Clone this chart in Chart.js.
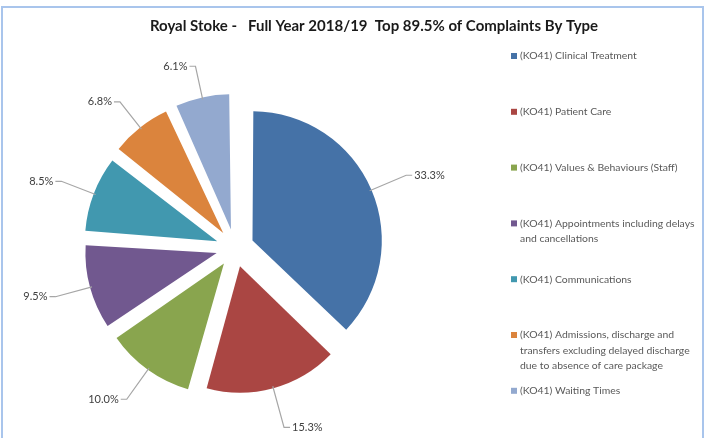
<!DOCTYPE html>
<html>
<head>
<meta charset="utf-8">
<script src="https://cdn.jsdelivr.net/npm/chart.js@4.4.1/dist/chart.umd.min.js"></script>
<style>
  html, body { margin: 0; padding: 0; background: #ffffff; }
  #wrap { width: 711px; height: 438px; position: relative; }
</style>
</head>
<body>
<div id="wrap"><canvas id="c" width="711" height="438"></canvas></div>
<script>
// ---- data ----
const chartTitle = 'Royal Stoke -   Full Year 2018/19  Top 89.5% of Complaints By Type';
const categories = [
  ['(KO41) Clinical Treatment'],
  ['(KO41) Patient Care'],
  ['(KO41) Values & Behaviours (Staff)'],
  ['(KO41) Appointments including delays', 'and cancellations'],
  ['(KO41) Communications'],
  ['(KO41) Admissions, discharge and', 'transfers excluding delayed discharge', 'due to absence of care package'],
  ['(KO41) Waiting Times']
];
const values = [33.3, 15.3, 10.0, 9.5, 8.5, 6.8, 6.1];
const colors = ['#4572A7', '#AA4643', '#89A54E', '#71588F', '#4198AF', '#DB843D', '#93A9CF'];

const FONT = "Lato, 'Liberation Sans', sans-serif";
const OFFSET = 76; // chart.js translates arcs by offset/4

const frame = {
  id: 'frame',
  beforeDraw(chart) {
    const ctx = chart.ctx;
    ctx.save();
    ctx.fillStyle = '#ffffff';
    ctx.fillRect(0, 0, chart.width, chart.height);
    ctx.strokeStyle = '#a9c5ec';
    ctx.lineWidth = 2;
    ctx.strokeRect(2, 7, 701, 440);
    ctx.restore();
  },
  afterDraw(chart) {
    const ctx = chart.ctx;
    ctx.save();
    ctx.fillStyle = '#1a1a1a';
    ctx.font = "bold 15px " + FONT;
    ctx.textAlign = 'center';
    ctx.textBaseline = 'middle';
    ctx.fillText(chartTitle, 374, 26);
    ctx.restore();
  }
};

const sideLegend = {
  id: 'sideLegend',
  afterDraw(chart) {
    const ctx = chart.ctx;
    const labels = chart.data.labels;
    const bg = chart.data.datasets[0].backgroundColor;
    ctx.save();
    ctx.font = "10.4px " + FONT;
    ctx.textBaseline = 'middle';
    ctx.textAlign = 'left';
    const top = 56, step = 55.8, lineH = 15.5, x0 = 511;
    labels.forEach((lab, i) => {
      const y = top + i * step;
      ctx.fillStyle = bg[i];
      ctx.fillRect(x0, y - 3, 6, 6);
      ctx.fillStyle = '#595959';
      const lines = Array.isArray(lab) ? lab : [lab];
      lines.forEach((ln, j) => ctx.fillText(ln, x0 + 9, y + j * lineH));
    });
    ctx.restore();
  }
};

const outLabels = {
  id: 'outLabels',
  afterDatasetsDraw(chart) {
    const ctx = chart.ctx;
    const meta = chart.getDatasetMeta(0);
    const ds = chart.data.datasets[0];
    ctx.save();
    ctx.font = "11px " + FONT;
    ctx.textBaseline = 'middle';
    ctx.strokeStyle = '#a6a6a6';
    ctx.lineWidth = 1.2;
    ctx.fillStyle = '#404040';
    meta.data.forEach((arc, i) => {
      const p = arc.getProps(['x', 'y', 'startAngle', 'endAngle', 'outerRadius']);
      const mid = (p.startAngle + p.endAngle) / 2;
      const circ = p.endAngle - p.startAngle;
      const t = OFFSET / 4;
      const r = p.outerRadius + t * (1 - Math.sin(Math.min(Math.PI, circ)));
      const cx = Math.cos(mid), cy = Math.sin(mid);
      const ax = p.x + cx * t + cx * (r - 2);
      const ay = p.y + cy * t + cy * (r - 2);
      const er = p.outerRadius + 62;
      const ex = p.x + cx * er, ey = p.y + cy * er;
      const sx = cx >= 0 ? 1 : -1;
      const tx = ex + sx * 6;
      ctx.beginPath();
      ctx.moveTo(ax, ay);
      ctx.lineTo(ex, ey);
      ctx.lineTo(tx, ey);
      ctx.stroke();
      ctx.textAlign = sx > 0 ? 'left' : 'right';
      ctx.fillText(ds.data[i].toFixed(1) + '%', tx + sx * 2, ey);
    });
    ctx.restore();
  }
};

new Chart(document.getElementById('c'), {
  type: 'pie',
  data: {
    labels: categories,
    datasets: [{
      data: values,
      backgroundColor: colors,
      borderWidth: 0,
      offset: OFFSET,
      radius: 124
    }]
  },
  options: {
    responsive: false,
    animation: false,
    events: [],
    layout: { padding: { left: 0, right: 241, top: 58, bottom: 0 } },
    plugins: {
      legend: { display: false },
      title: { display: false },
      tooltip: { enabled: false }
    }
  },
  plugins: [frame, sideLegend, outLabels]
});
</script>
</body>
</html>
